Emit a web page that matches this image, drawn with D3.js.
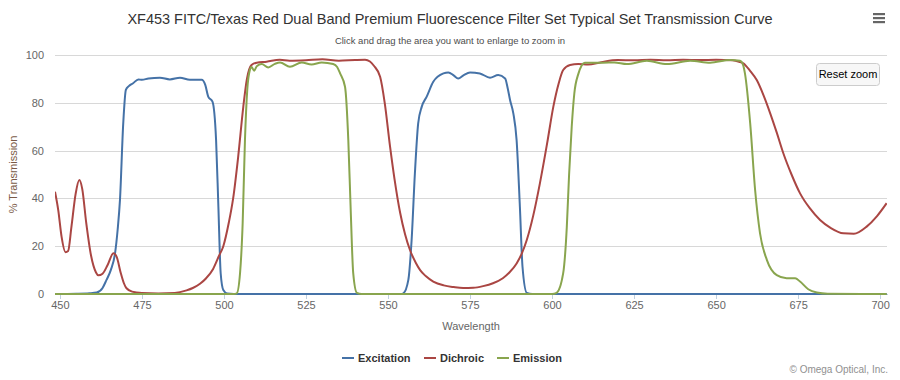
<!DOCTYPE html>
<html>
<head>
<meta charset="utf-8">
<script src="https://cdn.jsdelivr.net/npm/d3@7"></script>
<style>
  html, body { margin: 0; padding: 0; background: #fff; }
  svg { display: block; font-family: "Liberation Sans", Arial, sans-serif; }
</style>
</head>
<body>
<svg id="chart" width="900" height="380"></svg>
<script>
// ---- data ----
const titleText = "XF453 FITC/Texas Red Dual Band Premium Fluorescence Filter Set Typical Set Transmission Curve";
const subtitleText = "Click and drag the area you want to enlarge to zoom in";
const xTicks = [450, 475, 500, 525, 550, 575, 600, 625, 650, 675, 700];
const yTicks = [0, 20, 40, 60, 80, 100];
const seriesNames = ["Excitation", "Dichroic", "Emission"];

const excitationWl = [448.5,455,459,461.2,463,464.2,465.5,466.8,467.6,468.3,469.3,470.1,471,472.3,473.9,475,477,480.5,483.5,486.6,489.6,493.2,494.3,495.2,496.5,497.6,498.3,499,499.8,501,503,554,554.7,556.2,557.2,558.2,559.2,560.3,561.8,563.8,566.9,568.4,570,571.4,573,575,578,581.1,583.6,585.7,586.5,587.2,588.2,589.2,590.2,591,592.3,594,702];
const excitationT  = [0,0.1,0.3,0.6,2.5,5.9,10,17,27,39.3,71.4,85.4,87,88.2,89.8,89.6,90.2,90.5,89.8,90.5,89.6,89.6,87.5,82.6,80.5,64.4,36.5,8.7,1.7,0.2,0,0,0.3,5.9,22.6,50.5,71.4,78.4,82.6,88.8,92.3,92.7,91.5,90.2,91.5,92.7,92.3,90.5,91.6,90.2,86,81.2,75.6,64.4,36.5,11.4,0.5,0,0];

const dichroicWl = [448.5,449.5,450.5,451.7,452.5,453.5,454.8,455.9,456.8,458,459.5,461,461.7,463,464.5,466.3,467.3,468.5,469.5,470.3,472,475,480,485,488.6,490.5,492.7,494.5,496.7,498.5,499.8,501.5,502.8,504.3,505.9,507,508.4,510,513,517,520,525,530,535,540,543,544.5,545.7,547.6,549,550.6,552,553.7,555.2,556.7,558.5,559.8,561.5,563.8,567,570,572.9,576,579,582,585,587,589.2,590.8,592.3,594.3,596.3,598.5,600.4,602,603.4,605.5,608,611,615,620,625,630,635,640,645,650,655,657,658.3,660.3,662.4,664.5,666.5,668.5,670.5,673,675.6,678.5,681.7,685,688.8,692,695.9,699,702];
const dichroicT  = [42.8,35,24,17.5,18,28,42,47.7,44,30,16,9,7.8,8.5,12,17,15.5,9,4.5,2.4,1,0.4,0.2,0.4,1.5,2.5,4.3,6.5,10.5,16,20,30,40,57,78.4,90,95.8,96.8,97.2,98,97.6,97.8,98.2,97.6,97.9,98,97.3,95.5,90.9,80,62,48,34,25,18.4,13,10,7.5,5.2,3.6,2.9,2.5,2.6,3.3,4.5,6.6,9,12.8,17,22.6,33,46.3,63,78.4,88,93.7,95.8,96.2,96,97,97.9,97.8,98,97.8,98,97.9,98,97.8,97.2,96.5,93.5,89.5,83,75.6,67.5,58.9,50,42.1,36,31,27.6,25.4,25.2,28.2,32.5,38];

const emissionWl = [448.5,503,503.9,504.9,505.7,506.4,507.1,507.9,508.4,509.2,510,511.5,513.5,515.5,517.1,520.1,523.7,526.7,529.8,533.3,534.5,535.4,536.9,537.9,538.6,539.4,540.5,542,600,601.4,603.4,604.5,605.2,606,606.8,608,610,615.6,619,622.8,628.9,635,642.1,648.2,654.3,657.3,658.2,658.8,660.4,661.9,663.4,665.5,668.5,671.5,674.1,675.6,678.1,680.7,684,702];
const emissionT  = [0,0,0.3,8.7,29.6,64.4,85.4,93.7,95,93.4,95.3,96.2,94.8,96.3,96.9,95.1,96.9,96,96.9,96.2,95,92.3,86.7,64.4,36.5,8.7,0.5,0,0,0.5,8.7,28,50,70,84,92,96.8,96.8,96.9,96.2,97.6,96.2,97.6,96.8,97.9,97.6,96,92.3,71.4,43.5,25.4,14.2,7.9,6.6,6.6,5.2,2,0.6,0.1,0];

const seriesColors = ["#4572A7", "#AA4643", "#89A54E"];

// ---- layout ----
const svg = d3.select("#chart");
const plot = { left: 55, right: 887, top: 55, bottom: 294 };

const x = d3.scaleLinear().domain([448.5, 702.1]).range([plot.left, plot.right]);
const y = d3.scaleLinear().domain([0, 100]).range([plot.bottom, plot.top]);

// title
svg.append("text").attr("x", 450).attr("y", 24).attr("text-anchor", "middle")
  .attr("font-size", 14.5).attr("fill", "#333").text(titleText);
svg.append("text").attr("x", 450).attr("y", 44).attr("text-anchor", "middle")
  .attr("font-size", 9.5).attr("fill", "#4d4d4d").text(subtitleText);

// grid lines
const yAxis = d3.axisLeft(y).tickValues(yTicks).tickSize(-(plot.right - plot.left)).tickPadding(11);
const gy = svg.append("g").attr("transform", `translate(${plot.left},0)`).call(yAxis);
gy.select(".domain").remove();
gy.selectAll(".tick line").attr("stroke", "#D8D8D8").attr("stroke-width", 1)
  .attr("shape-rendering", "crispEdges");
gy.selectAll(".tick text").attr("font-size", 11).attr("fill", "#666")
  .attr("font-family", "Liberation Sans, Arial, sans-serif");

// x axis
const xAxis = d3.axisBottom(x).tickValues(xTicks).tickSize(5).tickPadding(2).tickSizeOuter(0);
const gx = svg.append("g").attr("transform", `translate(0,${plot.bottom})`).call(xAxis);
gx.select(".domain").attr("stroke", "#C0D0E0").attr("shape-rendering", "crispEdges");
gx.selectAll(".tick line").attr("stroke", "#C0D0E0").attr("shape-rendering", "crispEdges");
gx.selectAll(".tick text").attr("font-size", 11).attr("fill", "#666")
  .attr("font-family", "Liberation Sans, Arial, sans-serif");

// axis titles
svg.append("text").attr("x", (plot.left + plot.right) / 2).attr("y", 330)
  .attr("text-anchor", "middle").attr("font-size", 11).attr("fill", "#666").text("Wavelength");
svg.append("text").attr("transform", `translate(17,${(plot.top + plot.bottom) / 2}) rotate(-90)`)
  .attr("text-anchor", "middle").attr("font-size", 11).attr("fill", "#7a5a46").text("% Transmission");

// series
const series = [
  { name: seriesNames[0], wl: excitationWl, t: excitationT, color: seriesColors[0] },
  { name: seriesNames[1], wl: dichroicWl, t: dichroicT, color: seriesColors[1] },
  { name: seriesNames[2], wl: emissionWl, t: emissionT, color: seriesColors[2] }
];
const line = d3.line().x(d => x(d[0])).y(d => y(d[1])).curve(d3.curveMonotoneX);
svg.append("clipPath").attr("id", "plotclip").append("rect")
  .attr("x", plot.left).attr("y", plot.top - 5).attr("width", plot.right - plot.left).attr("height", plot.bottom - plot.top + 6);
const gs = svg.append("g").attr("clip-path", "url(#plotclip)");
series.forEach(s => {
  const pts = s.wl.map((w, i) => [w, s.t[i]]);
  gs.append("path").attr("d", line(pts)).attr("fill", "none")
    .attr("stroke", s.color).attr("stroke-width", 2).attr("stroke-linejoin", "round");
});

// legend
const legendItems = [
  { x: 342, tx: 358 },
  { x: 424, tx: 440 },
  { x: 497, tx: 513 }
];
series.forEach((s, i) => {
  const g = svg.append("g");
  g.append("line").attr("x1", legendItems[i].x).attr("x2", legendItems[i].x + 12)
    .attr("y1", 358).attr("y2", 358).attr("stroke", s.color).attr("stroke-width", 2);
  g.append("text").attr("x", legendItems[i].tx).attr("y", 362).attr("font-size", 11)
    .attr("font-weight", "bold").attr("fill", "#333").text(s.name);
});

// credits
svg.append("text").attr("x", 888).attr("y", 373).attr("text-anchor", "end")
  .attr("font-size", 10).attr("fill", "#909090").text("© Omega Optical, Inc.");

// reset zoom button
const btn = svg.append("g");
btn.append("rect").attr("x", 816.5).attr("y", 63.5).attr("width", 63).attr("height", 22)
  .attr("rx", 3).attr("fill", "#f7f7f7").attr("stroke", "#cccccc");
btn.append("text").attr("x", 848).attr("y", 78).attr("text-anchor", "middle")
  .attr("font-size", 11).attr("fill", "#000").text("Reset zoom");

// menu icon
[14, 18, 22].forEach(yy => {
  svg.append("rect").attr("x", 873).attr("y", yy - 1).attr("width", 12).attr("height", 2.2).attr("fill", "#666");
});
</script>
</body>
</html>
